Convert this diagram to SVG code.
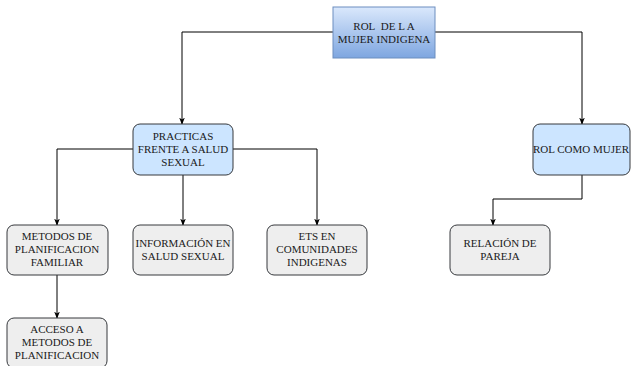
<svg xmlns="http://www.w3.org/2000/svg" width="631" height="366" viewBox="0 0 631 366">
<defs>
<linearGradient id="g" x1="0" y1="0" x2="0" y2="1">
<stop offset="0" stop-color="#dae8fc"/>
<stop offset="1" stop-color="#7ea6e0"/>
</linearGradient>
<marker id="a" viewBox="0 0 10 10" refX="9" refY="5" markerWidth="7" markerHeight="7" orient="auto" markerUnits="userSpaceOnUse">
<path d="M0,1 L10,5 L0,9 L2.5,5 Z" fill="#000"/>
</marker>
</defs>
<style>
.t{font-family:"Liberation Serif","Times New Roman","DejaVu Serif",serif;font-size:11px;fill:#1a1a1a;text-anchor:middle}
.b{fill:#cce5ff;stroke:#36393d;stroke-width:1}
.g{fill:#eeeeee;stroke:#36393d;stroke-width:1}
.c{fill:none;stroke:#000;stroke-width:1;marker-end:url(#a)}
</style>
<g id="connectors">
<path class="c" d="M333,32 H182 V124"/>
<path class="c" d="M435,32 H582 V124"/>
<path class="c" d="M133,149 H57 V225"/>
<path class="c" d="M183,175 V225"/>
<path class="c" d="M233,149 H317 V225"/>
<path class="c" d="M582,175 V199 H493 V225"/>
<path class="c" d="M57,275 V318"/>
</g>
<g id="root">
<rect x="333" y="7" width="102" height="51" fill="url(#g)" stroke="#6c8ebf"/>
<text class="t" x="384" y="30">ROL&#160; DE L A</text>
<text class="t" x="384" y="43">MUJER INDIGENA</text>
</g>
<g id="practicas">
<rect class="b" x="133" y="124" width="100" height="51" rx="7"/>
<text class="t" x="183" y="140">PRACTICAS</text>
<text class="t" x="183" y="153">FRENTE A SALUD</text>
<text class="t" x="183" y="166">SEXUAL</text>
</g>
<g id="rolmujer">
<rect class="b" x="533" y="124" width="97" height="51" rx="7"/>
<text class="t" x="581" y="153">ROL COMO MUJER</text>
</g>
<g id="metodos">
<rect class="g" x="7" y="225" width="101" height="50" rx="7"/>
<text class="t" x="57" y="240">METODOS DE</text>
<text class="t" x="57" y="253">PLANIFICACION</text>
<text class="t" x="57" y="266">FAMILIAR</text>
</g>
<g id="informacion">
<rect class="g" x="133" y="225" width="100" height="50" rx="7"/>
<text class="t" x="183" y="247">INFORMACIÓN EN</text>
<text class="t" x="183" y="260">SALUD SEXUAL</text>
</g>
<g id="ets">
<rect class="g" x="267" y="225" width="100" height="50" rx="7"/>
<text class="t" x="317" y="240">ETS EN</text>
<text class="t" x="317" y="253">COMUNIDADES</text>
<text class="t" x="317" y="266">INDIGENAS</text>
</g>
<g id="relacion">
<rect class="g" x="450" y="225" width="100" height="50" rx="7"/>
<text class="t" x="500" y="247">RELACIÓN DE</text>
<text class="t" x="500" y="260">PAREJA</text>
</g>
<g id="acceso">
<rect class="g" x="7" y="318" width="100" height="50" rx="7"/>
<text class="t" x="57" y="333">ACCESO A</text>
<text class="t" x="57" y="346">METODOS DE</text>
<text class="t" x="57" y="359">PLANIFICACION</text>
</g>
</svg>
